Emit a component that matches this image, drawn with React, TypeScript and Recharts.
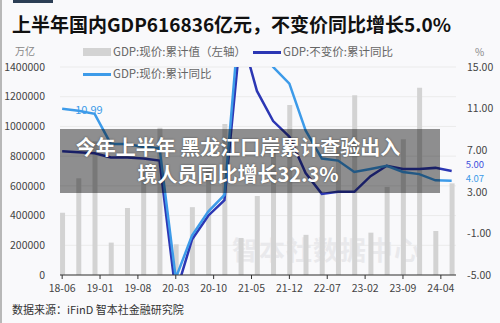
import React from 'react'
import { ComposedChart, Bar, Line, XAxis, YAxis, CartesianGrid } from 'recharts'

// quarter-end dates
const quarters = [
  '2018-06', '2018-09', '2018-12', '2019-03', '2019-06', '2019-09', '2019-12',
  '2020-03', '2020-06', '2020-09', '2020-12', '2021-03', '2021-06', '2021-09',
  '2021-12', '2022-03', '2022-06', '2022-09', '2022-12', '2023-03', '2023-06',
  '2023-09', '2023-12', '2024-03', '2024-06',
]

// GDP:现价:累计值 (亿元)
const gdpValue = [
  418961, 650899, 900309, 218063, 450933, 697798, 990865,
  206504, 456614, 722786, 1015986, 249310, 532167, 823131,
  1143670, 270178, 562642, 870269, 1210207, 284997, 593034,
  913027, 1260582, 296299, 616836,
]

// GDP:不变价:累计同比 (%)
const realGrowth = [
  6.9, 6.8, 6.7, 6.3, 6.3, 6.2, 6.0,
  -6.8, -1.6, 0.7, 2.2, 18.3, 12.7, 9.8,
  8.3, 4.8, 2.8, 3.0, 3.0, 4.5, 5.5,
  5.2, 5.2, 5.3, 5.0,
]

// GDP:现价:累计同比 (%)
const nominalGrowth = [
  10.99, 10.8, 10.5, 7.6, 7.6, 7.3, 7.2,
  -5.3, -1.2, 1.1, 2.7, 21.2, 17.6, 15.0,
  13.4, 8.9, 6.2, 6.0, 4.9, 5.2, 5.5,
  4.9, 4.7, 4.1, 4.07,
]

const xTickLabels = ['18-06', '19-01', '19-08', '20-03', '20-10', '21-05', '21-12', '22-07', '23-02', '23-09', '24-04']
const leftTicks = [0, 200000, 400000, 600000, 800000, 1000000, 1200000, 1400000]
const rightTicks = [-5, -1, 3, 7, 11, 15]

const DARK = '#2c37b4'
const LIGHT = '#3d9be9'
const BAR = '#d3d3d3'
const FONT = '"Noto Sans CJK SC", "Noto Sans", sans-serif'

// months since 2018-06
const monthIndex = (s: string) => {
  const [y, m] = s.split('-').map(Number)
  return (y - 2018) * 12 + (m - 6)
}

const data = quarters.map((q, i) => ({
  x: monthIndex(q),
  gdp: gdpValue[i],
  real: realGrowth[i],
  nominal: nominalGrowth[i],
}))

const xTicks = xTickLabels.map(l => monthIndex('20' + l))
const xLabelOf: Record<number, string> = {}
xTickLabels.forEach((l, i) => { xLabelOf[xTicks[i]] = l })

const last = data.length - 1

const endLabel = (color: string, showFirst: boolean, dy: number) => (props: any) => {
  const { x, y, index, value } = props
  if (index === last) {
    return (
      <text x={x + 14} y={y + dy} fill={color} fontSize={9.5} dominantBaseline="central" fontFamily={FONT}>
        {Number(value).toFixed(2)}
      </text>
    )
  }
  if (showFirst && index === 0) {
    return (
      <text x={x + 13} y={y} fill={color} fontSize={11} dominantBaseline="central" fontFamily={FONT}>
        {Number(value).toFixed(2)}
      </text>
    )
  }
  return null
}

export default function App() {
  return (
    <div style={{ position: 'relative', width: 500, height: 323, background: '#f9f9fb', overflow: 'hidden', fontFamily: FONT }}>
      <style>{`body{margin:0}`}</style>
      {/* left border + top accent */}
      <div style={{ position: 'absolute', left: 0, top: 0, width: 2, height: 323, background: '#b8b8b8' }} />
      <div style={{ position: 'absolute', left: 13, top: 0, width: 40, height: 3, background: '#2c3e55' }} />

      <div style={{ position: 'absolute', left: 12, top: 12, fontSize: 19, fontWeight: 700, color: '#111', whiteSpace: 'nowrap', lineHeight: '24px' }}>
        上半年国内GDP616836亿元，不变价同比增长5.0%
      </div>

      {/* watermark */}
      <div style={{ position: 'absolute', left: 232, top: 230, fontSize: 26, fontWeight: 700, color: '#e9e9ec', letterSpacing: 1, whiteSpace: 'nowrap' }}>
        智本社数据中心
      </div>

      <div style={{ position: 'absolute', left: 15, top: 43, fontSize: 10, color: '#888' }}>万亿</div>
      <div style={{ position: 'absolute', left: 475, top: 44, fontSize: 10, color: '#888' }}>%</div>

      {/* legend */}
      <div style={{ position: 'absolute', left: 83, top: 48, width: 28, height: 8, background: BAR }} />
      <div style={{ position: 'absolute', left: 113, top: 43, fontSize: 11.5, color: '#666', whiteSpace: 'nowrap' }}>GDP:现价:累计值（左轴）</div>
      <div style={{ position: 'absolute', left: 253, top: 51, width: 28, height: 3, background: DARK }} />
      <div style={{ position: 'absolute', left: 283, top: 43, fontSize: 11.5, color: '#666', whiteSpace: 'nowrap' }}>GDP:不变价:累计同比</div>
      <div style={{ position: 'absolute', left: 83, top: 73, width: 28, height: 3, background: LIGHT }} />
      <div style={{ position: 'absolute', left: 113, top: 65, fontSize: 11.5, color: '#666', whiteSpace: 'nowrap' }}>GDP:现价:累计同比</div>

      <div style={{ position: 'absolute', left: 0, top: 0 }}>
        <ComposedChart width={500} height={323} data={data} margin={{ top: 67, right: 0, bottom: 18, left: 0 }}>
          <CartesianGrid yAxisId="left" vertical={false} stroke="#ebebeb" />
          <XAxis
            dataKey="x"
            type="number"
            domain={[-0.4, 72.8]}
            ticks={xTicks}
            tickFormatter={(v: number) => xLabelOf[v] ?? ''}
            height={30}
            axisLine={{ stroke: '#333' }}
            tickLine={{ stroke: '#333' }}
            tickSize={4}
            tickMargin={6}
            tick={{ fill: '#444', fontSize: 10.5, fontFamily: FONT }}
            interval={0}
          />
          <YAxis
            yAxisId="left"
            width={60}
            domain={[0, 1400000]}
            ticks={leftTicks}
            axisLine={false}
            tickLine={false}
            tickSize={6}
            tickMargin={9}
            tick={{ fill: '#444', fontSize: 10.5, fontFamily: FONT }}
            interval={0}
          />
          <YAxis
            yAxisId="right"
            orientation="right"
            width={44}
            domain={[-5, 15]}
            ticks={rightTicks}
            allowDataOverflow
            axisLine={false}
            tickLine={false}
            tickSize={6}
            tickMargin={5}
            tickFormatter={(v: number) => v.toFixed(2)}
            tick={{ fill: '#444', fontSize: 10.5, fontFamily: FONT, textAnchor: 'start' }}
            interval={0}
          />
          <Bar yAxisId="left" dataKey="gdp" fill={BAR} barSize={5} isAnimationActive={false} />
          <Line
            yAxisId="right"
            dataKey="real"
            stroke={DARK}
            strokeWidth={2.5}
            dot={false}
            isAnimationActive={false}
            label={endLabel('#3f4fdc', false, -7)}
          />
          <Line
            yAxisId="right"
            dataKey="nominal"
            stroke={LIGHT}
            strokeWidth={2.5}
            dot={false}
            isAnimationActive={false}
            label={endLabel(LIGHT, true, -3)}
          />
        </ComposedChart>
      </div>

      {/* news banner overlay */}
      <div style={{ position: 'absolute', left: 60, top: 129, width: 380, height: 64, background: 'rgba(0,0,0,0.43)' }} />
      <div style={{
        position: 'absolute', left: 60, top: 133, width: 356, textAlign: 'center', color: '#fff',
        fontSize: 20, fontWeight: 700, lineHeight: '27px', textShadow: '0 0 2px rgba(0,0,0,0.5)', whiteSpace: 'nowrap',
      }}>
        今年上半年 黑龙江口岸累计查验出入<br />境人员同比增长32.3%
      </div>

      <div style={{ position: 'absolute', left: 12, top: 301, fontSize: 11, color: '#333', whiteSpace: 'nowrap' }}>
        数据来源：iFinD 智本社金融研究院
      </div>
    </div>
  )
}
